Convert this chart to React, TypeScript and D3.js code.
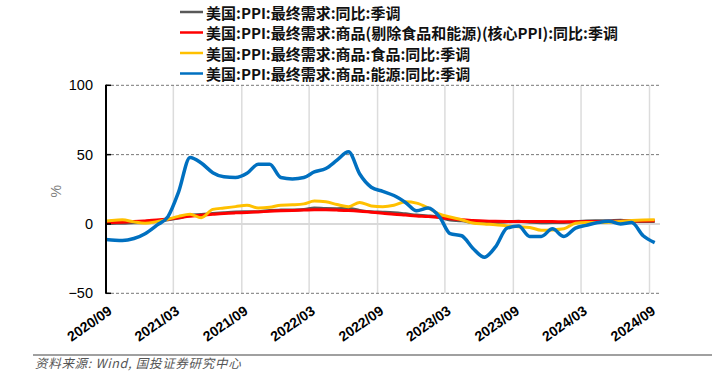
import React from "react";
import * as d3 from "d3";

const months = [
  "2020-08", "2020-09", "2020-10", "2020-11", "2020-12",
  "2021-01", "2021-02", "2021-03", "2021-04", "2021-05", "2021-06",
  "2021-07", "2021-08", "2021-09", "2021-10", "2021-11", "2021-12",
  "2022-01", "2022-02", "2022-03", "2022-04", "2022-05", "2022-06",
  "2022-07", "2022-08", "2022-09", "2022-10", "2022-11", "2022-12",
  "2023-01", "2023-02", "2023-03", "2023-04", "2023-05", "2023-06",
  "2023-07", "2023-08", "2023-09", "2023-10", "2023-11", "2023-12",
  "2024-01", "2024-02", "2024-03", "2024-04", "2024-05", "2024-06",
  "2024-07", "2024-08", "2024-09",
];

const ppiTotal = [
  0.0, 0.4, 0.5, 0.8, 1.0,
  1.7, 3.0, 4.2, 6.4, 6.8, 7.5,
  8.1, 8.6, 8.8, 8.9, 9.8, 10.0,
  10.1, 10.4, 11.5, 11.1, 11.0, 11.2,
  9.8, 8.8, 8.5, 8.1, 7.3, 6.4,
  5.8, 4.8, 2.8, 2.3, 1.1, 0.3,
  0.8, 1.6, 2.0, 1.3, 0.9, 1.0,
  1.0, 1.6, 2.1, 2.3, 2.4, 2.7,
  2.1, 1.7, 1.8,
];

const ppiCoreGoods = [
  0.8, 1.0, 1.3, 1.7, 2.2,
  2.8, 3.6, 4.5, 5.5, 6.3, 7.0,
  7.6, 8.0, 8.3, 8.7, 9.1, 9.5,
  9.8, 10.0, 10.2, 10.2, 10.0, 9.7,
  9.2, 8.5, 7.8, 7.0, 6.4, 5.8,
  5.3, 4.6, 3.8, 3.0, 2.5, 2.1,
  1.9, 1.8, 1.8, 1.7, 1.7, 1.7,
  1.6, 1.6, 1.7, 1.8, 1.9, 2.0,
  2.1, 2.2, 2.3,
];

const ppiFood = [
  1.5, 2.5, 3.0, 1.5, 0.5,
  1.7, 3.5, 5.5, 7.0, 4.5, 10.5,
  11.5, 12.5, 13.5, 11.5, 12.0, 13.5,
  13.8, 14.5, 16.5, 16.0, 14.0, 12.5,
  15.5, 13.0, 12.5, 13.5, 16.0, 15.0,
  11.5, 7.0, 5.0, 3.0, 0.7, 0.0,
  -0.5, -1.4, -2.0, -2.5, -4.5, -4.3,
  -3.5, 0.5, 1.0, 1.1, 1.3, 1.7,
  2.5, 2.9, 3.0,
];

const ppiEnergy = [
  -11, -11.5, -12, -10.5, -7,
  -1, 5.5, 23, 48, 44, 37,
  34, 33.5, 36.5, 43, 43, 33.5,
  32.5, 33.5, 37.5, 40, 46, 52,
  36, 26.5, 23.5, 20.5, 15.5, 9.5,
  11.5, 5, -7, -8.5, -17.5, -24,
  -16.5, -3, -1.5, -9, -9, -3.5,
  -9, -3, -1, 1, 2, 0,
  1, -8.5, -13.5,
];

const seriesNames = [
  "美国:PPI:最终需求:同比:季调",
  "美国:PPI:最终需求:商品(剔除食品和能源)(核心PPI):同比:季调",
  "美国:PPI:最终需求:商品:食品:同比:季调",
  "美国:PPI:最终需求:商品:能源:同比:季调",
];

const xTickLabels = [
  "2020/09", "2021/03", "2021/09", "2022/03", "2022/09",
  "2023/03", "2023/09", "2024/03", "2024/09",
];

const yTicks = [100, 50, 0, -50];

const W = 712;
const H = 379;
const left = 106;
const right = 660;
const top = 85.3;
const bottom = 293.3;

const colors = ["#595959", "#ff0000", "#ffc000", "#0070c0"];
const widths = [3, 3, 3, 3.5];

function parseMonth(s: string) {
  const [y, m] = s.split("-").map(Number);
  return new Date(y, m - 1, 15);
}
function parseTick(s: string) {
  const [y, m] = s.split("/").map(Number);
  return new Date(y, m - 1, 1);
}

export default function App() {
  const x = d3
    .scaleTime()
    .domain([parseTick("2020/09"), parseTick("2024/09")])
    .range([left, 649.5]);
  const y = d3.scaleLinear().domain([-50, 100]).range([bottom, top]);

  const allSeries = [ppiTotal, ppiCoreGoods, ppiFood, ppiEnergy];
  const line = d3
    .line<number>()
    .x((_, i) => x(parseMonth(months[i])))
    .y((d) => y(d))
    .curve(d3.curveMonotoneX);

  const fmt = (v: number) => (v < 0 ? "\u2212" + Math.abs(v) : String(v));

  return (
    <svg
      width={W}
      height={H}
      style={{ position: "absolute", left: 0, top: 0, background: "#fff" }}
      fontFamily="'Liberation Sans', Arial, sans-serif"
    >
      <defs>
        <clipPath id="plotclip">
          <rect x={left} y={0} width={right - left} height={H} />
        </clipPath>
      </defs>

      {/* legend */}
      {seriesNames.map((name, i) => {
        const ly = 12 + i * 20.5;
        return (
          <g key={name}>
            <line x1={180} x2={203} y1={ly} y2={ly} stroke={colors[i]} strokeWidth={2.5} />
            <text
              x={206}
              y={ly}
              dominantBaseline="central"
              fontSize={15}
              fontWeight={700}
              fontFamily="'Noto Sans CJK SC', sans-serif"
              fill="#111"
            >
              {name}
            </text>
          </g>
        );
      })}

      {/* vertical gridlines */}
      {xTickLabels.slice(1).map((t) => (
        <line
          key={"vg" + t}
          x1={x(parseTick(t))}
          x2={x(parseTick(t))}
          y1={top}
          y2={bottom}
          stroke="#dcdcdc"
          strokeWidth={1.5}
        />
      ))}

      {/* horizontal gridlines */}
      {yTicks.map((v) =>
        v === 0 ? (
          <line key={"hg" + v} x1={left} x2={right} y1={y(v)} y2={y(v)} stroke="#d9d9d9" strokeWidth={2} />
        ) : (
          <line
            key={"hg" + v}
            x1={left}
            x2={right}
            y1={y(v)}
            y2={y(v)}
            stroke="#777"
            strokeWidth={1}
            strokeDasharray="3,2"
          />
        )
      )}

      {/* series */}
      <g clipPath="url(#plotclip)">
        {allSeries.map((s, i) => (
          <path
            key={"s" + i}
            d={line(s) || ""}
            fill="none"
            stroke={colors[i]}
            strokeWidth={widths[i]}
            strokeLinejoin="round"
          />
        ))}
      </g>

      {/* y axis */}
      <line x1={left} x2={left} y1={top - 0.5} y2={bottom + 0.5} stroke="#000" strokeWidth={2} />
      {yTicks.map((v) => (
        <g key={"yt" + v}>
          <line x1={left} x2={left + 5} y1={y(v)} y2={y(v)} stroke="#000" strokeWidth={1.5} />
          <text
            x={93}
            y={y(v)}
            textAnchor="end"
            dominantBaseline="central"
            fontSize={14.5}
            fill="#000"
          >
            {fmt(v)}
          </text>
        </g>
      ))}
      <text
        transform={`translate(61,${y(25) + 2}) rotate(-90)`}
        textAnchor="middle"
        fontSize={14}
        fill="#808080"
      >
        %
      </text>

      {/* x tick labels */}
      {xTickLabels.map((t) => (
        <text
          key={"xl" + t}
          transform={`translate(${x(parseTick(t)) + 7},313) rotate(-35)`}
          textAnchor="end"
          fontSize={14}
          fontWeight={700}
          fill="#000"
        >
          {t}
        </text>
      ))}

      {/* source */}
      <line x1={33} x2={W} y1={355} y2={355} stroke="#808080" strokeWidth={1.5} />
      <text
        x={35}
        y={368}
        fontSize={12.5}
        fontStyle="italic"
        letterSpacing={0.7}
        fill="#555"
        fontFamily="'Noto Sans CJK SC', sans-serif"
      >
        资料来源: Wind, 国投证券研究中心
      </text>
    </svg>
  );
}
